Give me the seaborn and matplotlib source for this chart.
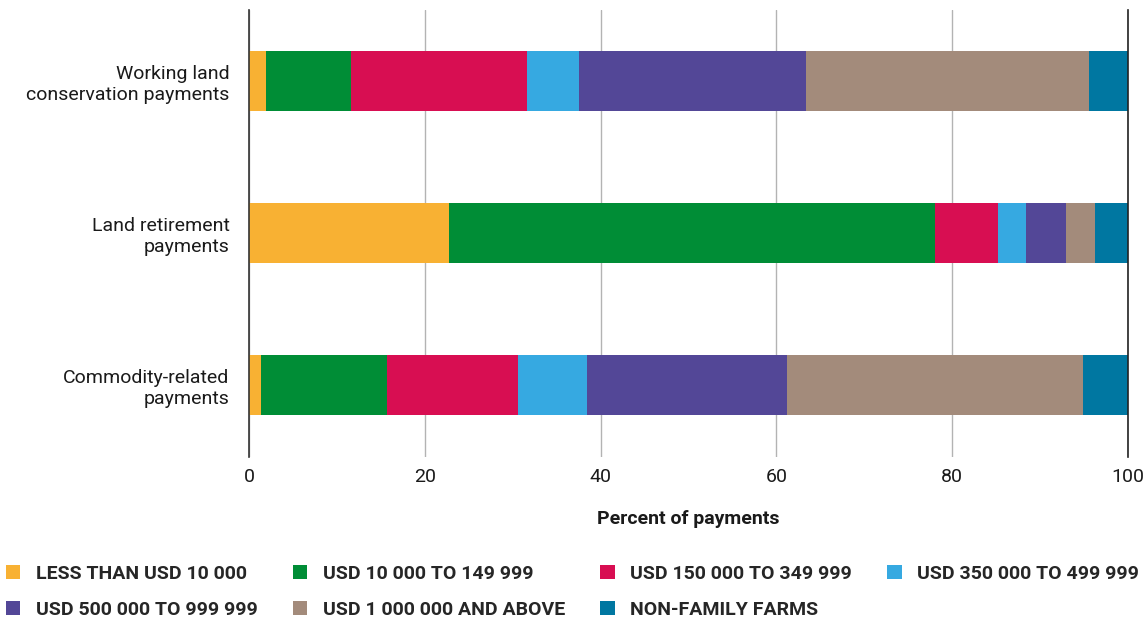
#! /usr/bin/env python3
# coding: utf-8
"""
Stacked horizontal bars: share of farm payments by farm size class
Output: out.png
"""
import numpy as np
import pandas as pd
import matplotlib.pyplot as plt
import seaborn as sb
from matplotlib.patches import Patch

categories = ['Working land\nconservation payments', 'Land retirement\npayments',
              'Commodity-related\npayments']

series_names = ['LESS THAN USD 10 000', 'USD 10 000 TO 149 999', 'USD 150 000 TO 349 999',
                'USD 350 000 TO 499 999', 'USD 500 000 TO 999 999',
                'USD 1 000 000 AND ABOVE', 'NON-FAMILY FARMS']

less_10k = [1.9, 22.8, 1.4]
usd_10k_150k = [9.7, 55.2, 14.3]
usd_150k_350k = [20.0, 7.2, 14.9]
usd_350k_500k = [5.9, 3.2, 7.9]
usd_500k_1m = [25.9, 4.5, 22.7]
usd_1m_plus = [32.2, 3.3, 33.7]
non_family = [4.4, 3.8, 5.1]

colors = ['#F8B133', '#008D36', '#D80E52', '#36A9E1', '#534797', '#A38B7B', '#0077A1']

x_ticks = [0, 20, 40, 60, 80, 100]


def prep_data() -> pd.DataFrame:
    values = np.array([less_10k, usd_10k_150k, usd_150k_350k, usd_350k_500k,
                       usd_500k_1m, usd_1m_plus, non_family])
    cum = np.cumsum(values, axis=0)
    rows = []
    for i, name in enumerate(series_names):
        for j, cat in enumerate(categories):
            rows.append({'series': name, 'category': cat, 'cum': cum[i, j]})
    return pd.DataFrame(rows)


if __name__ == '__main__':
    sb.set_style('white')
    plt.rcParams['font.family'] = ['Roboto', 'DejaVu Sans']

    data = prep_data()

    fig = plt.figure(figsize=(11.48, 6.20), dpi=100)
    ax = fig.add_axes([249 / 1148, 1 - 457 / 620, (1128 - 249) / 1148, 447 / 620])

    # Draw from the outermost segment inwards so the stack shows through
    for name, color in reversed(list(zip(series_names, colors))):
        sb.barplot(
            data=data[data['series'] == name],
            x='cum',
            y='category',
            order=categories,
            color=color,
            orient='h',
            width=0.395,
            saturation=1,
            linewidth=0,
            ax=ax
        )

    ax.set_xlim(0, 100)
    ax.set_ylim(2.474, -0.467)
    ax.set_xticks(x_ticks)
    ax.set_xticklabels([str(t) for t in x_ticks], fontsize=14, color='#1a1a1a')
    ax.tick_params(axis='x', length=0, pad=8)
    ax.tick_params(axis='y', length=0, pad=14, labelsize=14, labelcolor='#1a1a1a')
    ax.set_ylabel('')
    ax.set_xlabel('Percent of payments', fontsize=14, fontweight='bold',
                  color='#1a1a1a', labelpad=17)

    ax.grid(axis='x', color='#b3b3b3', linewidth=1)
    ax.set_axisbelow(True)
    for side in ['top', 'bottom']:
        ax.spines[side].set_visible(False)
    ax.spines['left'].set_color('#333333')
    ax.spines['right'].set_color('#222222')
    ax.spines['left'].set_linewidth(1.2)
    ax.spines['right'].set_linewidth(1.2)

    # Legend filled row-wise across 4 columns
    order = [0, 4, 1, 5, 2, 6, 3]
    handles = [Patch(facecolor=colors[i], edgecolor='none') for i in order]
    labels = [series_names[i] for i in order]
    fig.legend(handles, labels, ncol=4, loc='lower left',
               bbox_to_anchor=(0.0, -0.008), frameon=False,
               prop={'size': 14, 'weight': 'bold'},
               handlelength=0.75, handleheight=0.75, handletextpad=0.8,
               columnspacing=1.8, labelspacing=0.95, borderaxespad=0.05,
               borderpad=0.25)

    plt.savefig('out.png', dpi=100)
